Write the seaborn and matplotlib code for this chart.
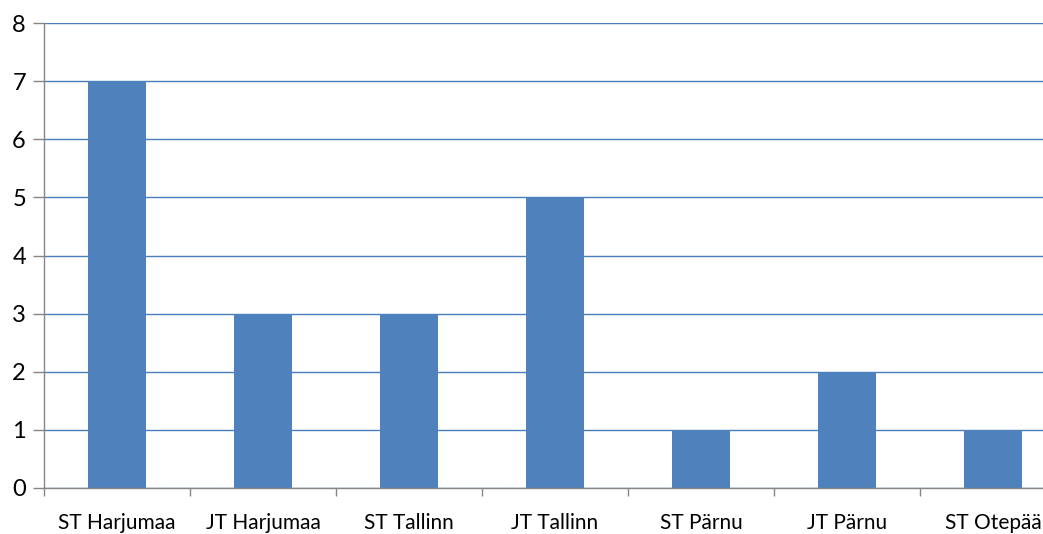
import matplotlib
matplotlib.use("Agg")
import matplotlib.pyplot as plt
import seaborn as sns
import pandas as pd
import numpy as np

categories = ["ST Harjumaa", "JT Harjumaa", "ST Tallinn", "JT Tallinn", "ST Pärnu", "JT Pärnu", "ST Otepää"]
values = [7, 3, 3, 5, 1, 2, 1]
y_ticks = [0, 1, 2, 3, 4, 5, 6, 7, 8]

sns.set_theme(style="white")
plt.rcParams['font.family'] = ['Lato', 'DejaVu Sans']

df = pd.DataFrame({"cat": categories, "val": values})

W, H = 1043, 534
fig = plt.figure(figsize=(W / 100, H / 100), dpi=100)
ax = fig.add_axes([44 / W, (H - 488) / H, 1022 / W, 465 / H])

ax.set_axisbelow(True)
for t in y_ticks:
    ax.axhline(t, color="#4A7EBB", lw=1.0, zorder=0)

sns.barplot(data=df, x="cat", y="val", color="#4F81BD", width=0.4, saturation=1,
            linewidth=0, edgecolor="none", ax=ax, zorder=2)

ax.set_xlim(-0.5, len(categories) - 0.5)
ax.set_ylim(0, 8)
ax.set_yticks(y_ticks)
ax.set_xlabel("")
ax.set_ylabel("")

for s in ["top", "right"]:
    ax.spines[s].set_visible(False)
ax.spines["left"].set_color("#868686")
ax.spines["bottom"].set_color("#868686")
ax.spines["left"].set_linewidth(1.0)
ax.spines["bottom"].set_linewidth(1.0)

ax.tick_params(axis="y", which="major", left=True, length=8, width=1, color="#868686",
               labelsize=17, labelcolor="#000000", pad=5)
ax.tick_params(axis="x", which="major", bottom=False, labelsize=15, labelcolor="#000000", pad=12)
ax.set_xticks(np.arange(-0.5, len(categories), 1.0), minor=True)
ax.tick_params(axis="x", which="minor", bottom=True, length=6, width=1, color="#868686")

fig.savefig("out.png", dpi=100)
